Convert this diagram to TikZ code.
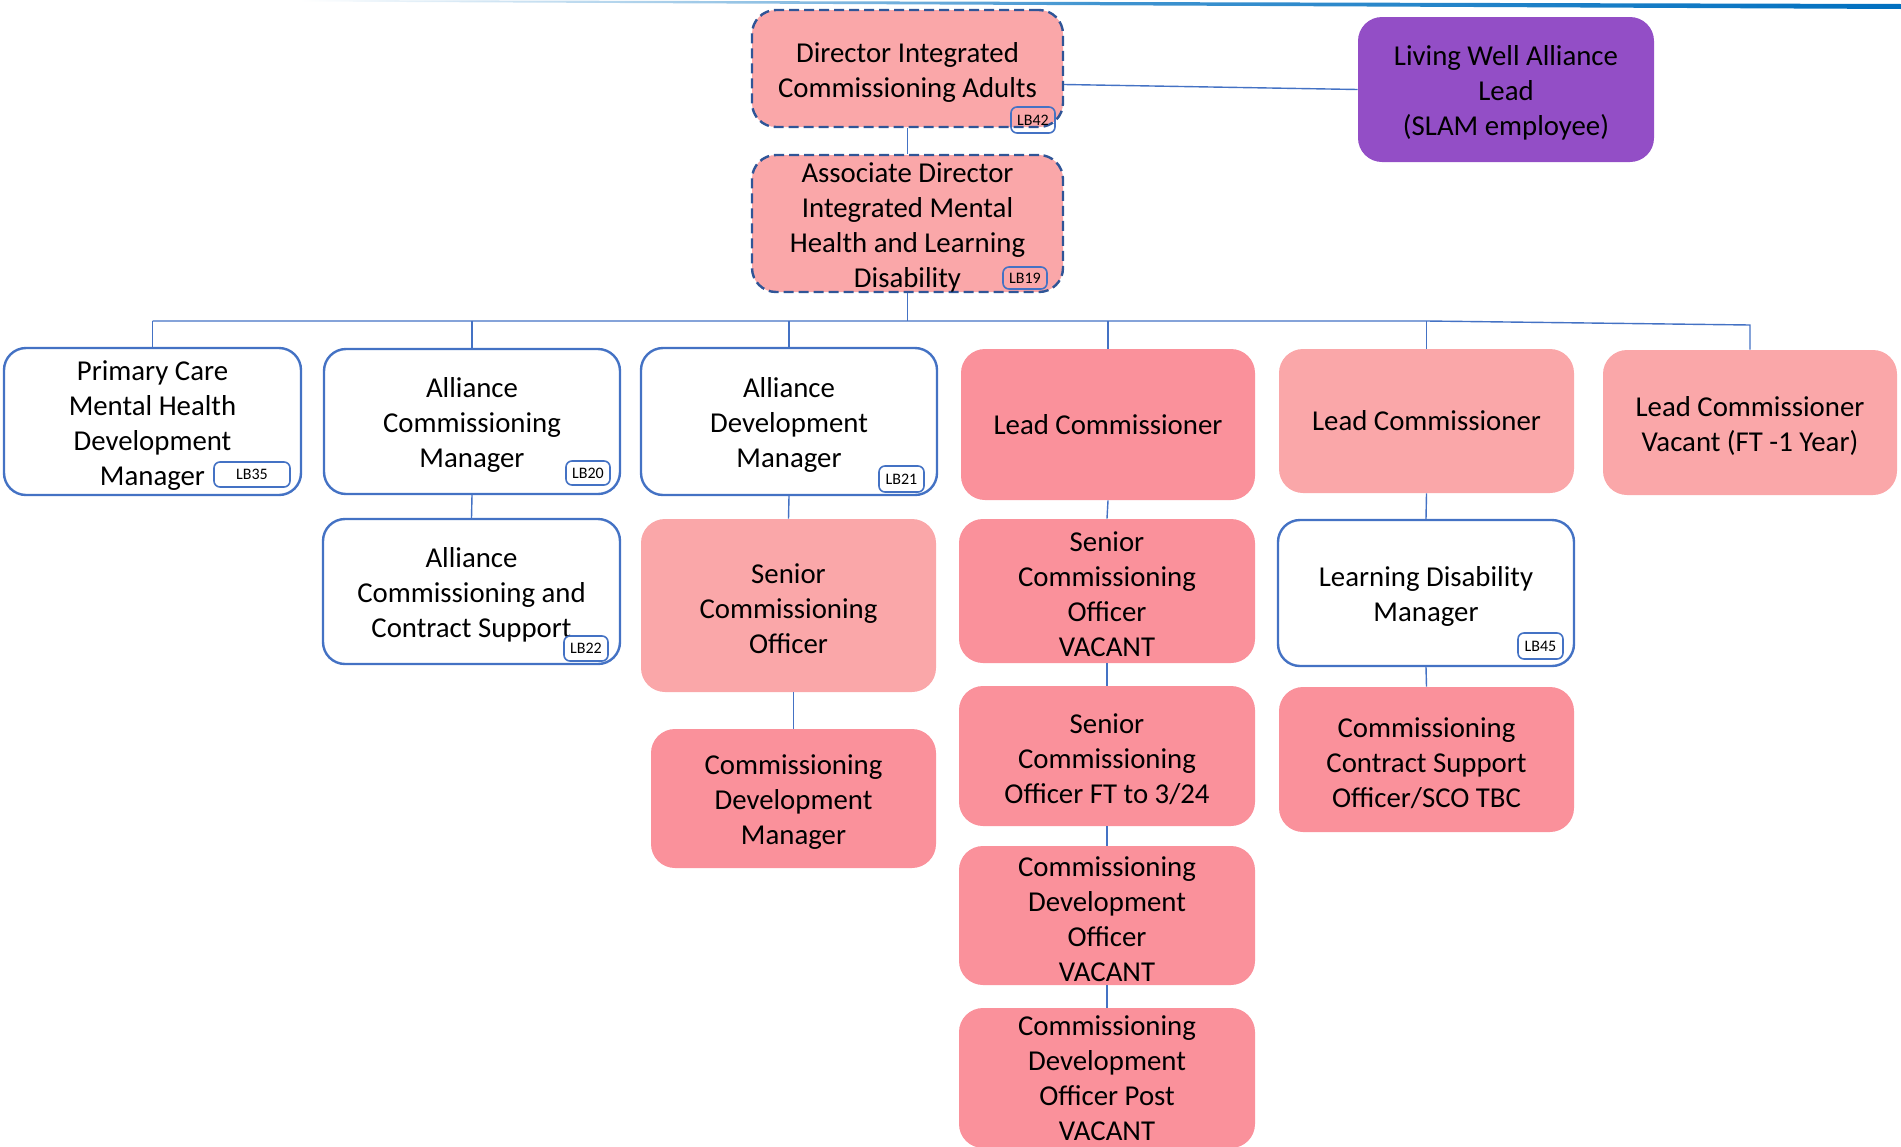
\documentclass[tikz,border=0pt]{standalone}
\usepackage{fontspec}
\setmainfont{Carlito}
\definecolor{bblue}{HTML}{4472C4}
\definecolor{dblue}{HTML}{2F5597}
\definecolor{topblue}{HTML}{0070C0}
\definecolor{pinkL}{HTML}{FAA7A9}
\definecolor{pinkD}{HTML}{FA919B}
\definecolor{purp}{HTML}{934EC6}
\newcommand\mainsz{\fontsize{14.4pt}{17.5pt}\selectfont}
\newcommand\tagsz{\fontsize{8pt}{9pt}\selectfont}
\newcommand\fl{\rule{0pt}{13.5pt}}
\tikzset{
  basebox/.style={align=center, inner sep=0pt, font=\mainsz, text=black},
  wbox/.style={basebox, draw=bblue, line width=1.2pt, fill=white, rounded corners=11pt},
  lbox/.style={basebox, fill=pinkL, rounded corners=12pt},
  dbox/.style={basebox, fill=pinkD, rounded corners=12pt},
  dashbox/.style={lbox, draw=dblue, line width=1.2pt, dash pattern=on 5pt off 2.5pt},
  pbox/.style={basebox, fill=purp, rounded corners=12pt},
  tag/.style={draw=bblue, line width=0.8pt, rounded corners=3pt, inner sep=0pt, font=\tagsz},
  conn/.style={draw=bblue, line width=0.7pt}
}
\begin{document}
\begin{tikzpicture}[x=0.5pt, y=-0.5pt]
\useasboundingbox (0,0) rectangle (1901,1146);
\clip (0,0) rectangle (1901,1146);
% top decorative line
\shade[left color=white, right color=topblue, middle color=topblue!75] (300,0) -- (1901,4) -- (1901,9) -- (300,1.5) -- cycle;

% top level
\node[dashbox, minimum width=155.5pt, minimum height=58.5pt] (dir) at (907.5,68.5) {\fl Director Integrated\\Commissioning Adults};
\node[pbox, minimum width=148pt, minimum height=72.5pt] (lw) at (1506,89.5) {\fl Living Well Alliance\\Lead\\(SLAM employee)};
\node[dashbox, minimum width=155.5pt, minimum height=68.5pt] (ad) at (907.5,223.5) {\fl Associate Director\\Integrated Mental\\Health and Learning\\Disability};

% row 1
\node[wbox, minimum width=148.5pt, minimum height=73.5pt] (pc) at (152.5,421.5) {\fl Primary Care\\Mental Health\\Development\\Manager};
\node[wbox, minimum width=148pt, minimum height=72.5pt] (acm) at (472,421.5) {\fl Alliance\\Commissioning\\Manager};
\node[wbox, minimum width=148pt, minimum height=73.5pt] (adm) at (789,421.5) {\fl Alliance\\Development\\Manager};
\node[dbox, minimum width=147pt, minimum height=75.5pt] (lc4) at (1108,424.5) {Lead Commissioner};
\node[lbox, minimum width=147.5pt, minimum height=72pt] (lc5) at (1426.5,421) {Lead Commissioner};
\node[lbox, minimum width=147pt, minimum height=72.5pt] (lcv) at (1750,422.5) {\fl Lead Commissioner\\Vacant (FT -1 Year)};

% column 2
\node[wbox, minimum width=148.5pt, minimum height=72.5pt] (accs) at (471.5,591.5) {\fl Alliance\\Commissioning and\\Contract Support};

% column 3
\node[lbox, minimum width=147.5pt, minimum height=86.5pt] (sco3) at (788.5,605.5) {\fl Senior\\Commissioning\\Officer};
\node[dbox, minimum width=142.5pt, minimum height=69.5pt] (cdm) at (793.5,798.5) {\fl Commissioning\\Development\\Manager};

% column 4
\node[dbox, minimum width=148pt, minimum height=72pt] (scov) at (1107,591) {\fl Senior\\Commissioning\\Officer\\VACANT};
\node[dbox, minimum width=148pt, minimum height=70pt] (scoft) at (1107,756) {\fl Senior\\Commissioning\\Officer FT to 3/24};
\node[dbox, minimum width=148pt, minimum height=69.5pt] (cdov) at (1107,915.5) {\fl Commissioning\\Development\\Officer\\VACANT};
\node[dbox, minimum width=148pt, minimum height=70pt] (cdop) at (1107,1078) {Commissioning\\Development\\Officer Post\\VACANT};

% column 5
\node[wbox, minimum width=148pt, minimum height=73pt] (ldm) at (1426,593) {\fl Learning Disability\\Manager};
\node[dbox, minimum width=147.5pt, minimum height=72.5pt] (ccso) at (1426.5,759.5) {\fl Commissioning\\Contract Support\\Officer/SCO TBC};

% tags
\node[tag, minimum width=22pt, minimum height=13pt] (t42) at (1033,120) {LB42};
\node[tag, minimum width=22pt, minimum height=11pt] (t19) at (1025,278) {LB19};
\node[tag, minimum width=38pt, minimum height=12.5pt, fill=white] (t35) at (252,474.5) {LB35};
\node[tag, minimum width=22pt, minimum height=12pt, fill=white] (t20) at (588,473) {LB20};
\node[tag, minimum width=22.5pt, minimum height=13pt, fill=white] (t21) at (901.5,479) {LB21};
\node[tag, minimum width=22pt, minimum height=12.5pt, fill=white] (t22) at (586,648.5) {LB22};
\node[tag, minimum width=22.5pt, minimum height=13pt, fill=white] (t45) at (1540.5,646) {LB45};

% connectors
\coordinate (bad) at (907.5,321);
\coordinate (b6) at (1750,325);
\draw[conn] (dir.south) -- (ad.north);
\draw[conn] ([yshift=-8pt]dir.east) -- (lw.west);
\draw[conn] (ad.south) -- (bad);
\draw[conn] (pc.north |- bad) -- (lc5.north |- bad) -- (b6) -- (lcv.north);
\draw[conn] (pc.north |- bad) -- (pc.north);
\draw[conn] (acm.north |- bad) -- (acm.north);
\draw[conn] (adm.north |- bad) -- (adm.north);
\draw[conn] (lc4.north |- bad) -- (lc4.north);
\draw[conn] (lc5.north |- bad) -- (lc5.north);
\draw[conn] (acm.south) -- (accs.north);
\draw[conn] (adm.south) -- (sco3.north);
\draw[conn] (sco3.south -| cdm.north) -- (cdm.north);
\draw[conn] (lc4.south) -- (scov.north);
\draw[conn] (scov.south) -- (scoft.north);
\draw[conn] (scoft.south) -- (cdov.north);
\draw[conn] (cdov.south) -- (cdop.north);
\draw[conn] (lc5.south) -- (ldm.north);
\draw[conn] (ldm.south) -- (ccso.north);
\end{tikzpicture}
\end{document}
